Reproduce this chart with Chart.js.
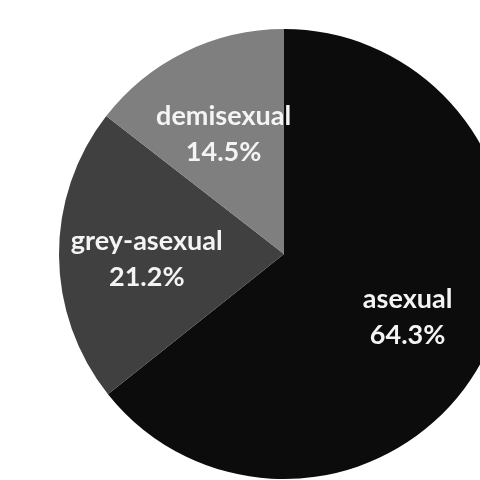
<!DOCTYPE html>
<html>
<head>
<meta charset="utf-8">
<script src="https://cdn.jsdelivr.net/npm/chart.js@4/dist/chart.umd.min.js"></script>
<style>
    html, body { margin: 0; padding: 0; background: #ffffff; overflow: hidden; }
    #wrap { position: relative; width: 568px; height: 508px; }
</style>
</head>
<body>
<div id="wrap"><canvas id="pieChart"></canvas></div>
<script>
const labels = ["asexual", "grey-asexual", "demisexual"];
const shares = [64.3, 21.2, 14.5];
const colours = ["#0c0c0c", "#404040", "#7f7f7f"];

// draws "name" and "xx.x%" inside each slice
const sliceLabels = {
    id: "sliceLabels",
    afterDatasetsDraw(chart) {
        const ctx = chart.ctx;
        const meta = chart.getDatasetMeta(0);
        ctx.save();
        ctx.fillStyle = "#f4f4f4";
        ctx.textAlign = "center";
        ctx.textBaseline = "middle";
        ctx.font = "bold 27px Lato, 'Open Sans', sans-serif";
        meta.data.forEach(function (arc, i) {
            const p = arc.getProps(["x", "y", "startAngle", "endAngle", "outerRadius"], true);
            const mid = (p.startAngle + p.endAngle) / 2;
            const r = p.outerRadius * 0.61;
            const cx = p.x + Math.cos(mid) * r;
            const cy = p.y + Math.sin(mid) * r + 4;
            ctx.fillText(labels[i], cx, cy - 18);
            ctx.fillText(shares[i].toFixed(1) + "%", cx, cy + 18);
        });
        ctx.restore();
    },
};

document.addEventListener("DOMContentLoaded", function () {
    const ctx = document.getElementById("pieChart");
    new Chart(ctx, {
        type: "pie",
        data: {
            labels: labels,
            datasets: [
                {
                    data: shares,
                    backgroundColor: colours,
                    borderWidth: 0,
                },
            ],
        },
        options: {
            responsive: true,
            maintainAspectRatio: false,
            animation: false,
            layout: { padding: 29 },
            plugins: {
                legend: { display: false },
                tooltip: { enabled: false },
            },
        },
        plugins: [sliceLabels],
    });
});
</script>
</body>
</html>
